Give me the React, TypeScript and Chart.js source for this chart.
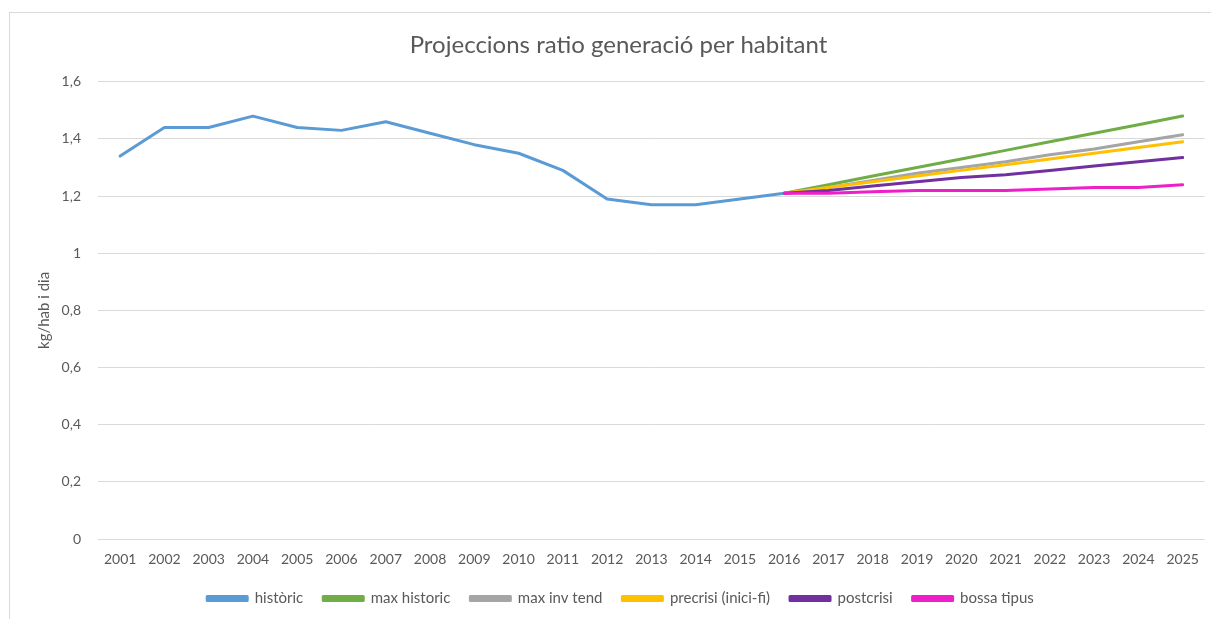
import React, { useEffect, useRef } from "react";
import { Chart, registerables } from "chart.js";

Chart.register(...registerables);

const years = [
  "2001", "2002", "2003", "2004", "2005", "2006", "2007", "2008", "2009",
  "2010", "2011", "2012", "2013", "2014", "2015", "2016", "2017", "2018",
  "2019", "2020", "2021", "2022", "2023", "2024", "2025",
];

const N = null;
const historic = [1.34, 1.44, 1.44, 1.48, 1.44, 1.43, 1.46, 1.42, 1.38, 1.35, 1.29, 1.19, 1.17, 1.17, 1.19, 1.21, N, N, N, N, N, N, N, N, N];
const maxHistoric = [N, N, N, N, N, N, N, N, N, N, N, N, N, N, N, 1.21, 1.24, 1.27, 1.30, 1.33, 1.36, 1.39, 1.42, 1.45, 1.48];
const maxInvTend = [N, N, N, N, N, N, N, N, N, N, N, N, N, N, N, 1.21, 1.23, 1.255, 1.28, 1.30, 1.32, 1.345, 1.365, 1.39, 1.415];
const precrisi = [N, N, N, N, N, N, N, N, N, N, N, N, N, N, N, 1.21, 1.23, 1.25, 1.27, 1.29, 1.31, 1.33, 1.35, 1.37, 1.39];
const postcrisi = [N, N, N, N, N, N, N, N, N, N, N, N, N, N, N, 1.21, 1.22, 1.235, 1.25, 1.265, 1.275, 1.29, 1.305, 1.32, 1.335];
const bossaTipus = [N, N, N, N, N, N, N, N, N, N, N, N, N, N, N, 1.21, 1.21, 1.215, 1.22, 1.22, 1.22, 1.225, 1.23, 1.23, 1.24];

const seriesNames = ["històric", "max historic", "max inv tend", "precrisi (inici-fi)", "postcrisi", "bossa tipus"];
const seriesColors = ["#5B9BD5", "#70AD47", "#A5A5A5", "#FFC000", "#7030A0", "#EE1FC8"];
const seriesData = [historic, maxHistoric, maxInvTend, precrisi, postcrisi, bossaTipus];

const FONT = "Lato";
const TEXT = "#595959";
const GRID = "#D9D9D9";

const shiftBoxes = {
  id: "shiftBoxes",
  afterLayout(chart: any) {
    const t = chart.titleBlock;
    if (t) { t.left += 16; t.right += 16; }
    const l = chart.legend;
    if (l) { l.left += 18; l.right += 18; }
  },
};

export default function App() {
  const ref = useRef<HTMLCanvasElement>(null);
  useEffect(() => {
    const canvas = ref.current;
    if (!canvas) return;
    const chart = new Chart(canvas, {
      type: "line",
      data: {
        labels: years,
        datasets: seriesData.map((d, i) => ({
          label: seriesNames[i],
          data: d,
          borderColor: seriesColors[i],
          backgroundColor: seriesColors[i],
          borderWidth: 3,
          pointRadius: 0,
          pointHoverRadius: 0,
          fill: false,
          tension: 0,
          spanGaps: false,
          borderCapStyle: "round",
          borderJoinStyle: "round",
          order: seriesData.length - i,
        })),
      },
      plugins: [shiftBoxes],
      options: {
        animation: false,
        responsive: false,
        layout: { padding: { left: 0, right: 6, top: 0, bottom: 3 } },
        plugins: {
          tooltip: { enabled: false },
          title: {
            display: true,
            text: "Projeccions ratio generació per habitant",
            color: TEXT,
            font: { family: FONT, size: 24, weight: "normal", lineHeight: 1.2 },
            padding: { top: 31, bottom: 22 },
          },
          legend: {
            position: "bottom",
            labels: {
              color: TEXT,
              font: { family: FONT, size: 15 },
              boxWidth: 40,
              boxHeight: 4,
              padding: 20,
              sort: (a: any, b: any) => a.datasetIndex - b.datasetIndex,
            },
          },
        },
        scales: {
          x: {
            offset: true,
            grid: { display: false, drawTicks: false },
            border: { display: false },
            ticks: {
              color: TEXT,
              font: { family: FONT, size: 14 },
              padding: 12,
              maxRotation: 0,
              autoSkip: false,
            },
            afterFit: (s: any) => { s.height = 32; },
          },
          y: {
            min: 0,
            max: 1.6,
            grid: { color: GRID, drawTicks: false, lineWidth: 1 },
            border: { display: false },
            ticks: {
              stepSize: 0.2,
              color: TEXT,
              font: { family: FONT, size: 14 },
              padding: 17,
              callback: (v: any) => {
                const n = Math.round(Number(v) * 10) / 10;
                return String(n).replace(".", ",");
              },
            },
            title: {
              display: true,
              text: "kg/hab i dia",
              color: TEXT,
              font: { family: FONT, size: 15 },
              padding: { top: 35, bottom: 0 },
            },
            afterFit: (s: any) => { s.width = 98; },
          },
        },
      },
    });
    return () => chart.destroy();
  }, []);

  return (
    <div style={{ position: "fixed", left: 0, top: 0, width: 1211, height: 619, background: "#fff" }}>
      <div
        style={{
          position: "absolute",
          left: 9,
          top: 12,
          width: 1202,
          height: 607,
          borderTop: "1px solid #D9D9D9",
          borderLeft: "1px solid #D9D9D9",
          boxSizing: "border-box",
        }}
      />
      <canvas ref={ref} width={1211} height={619} style={{ position: "absolute", left: 0, top: 0 }} />
    </div>
  );
}
